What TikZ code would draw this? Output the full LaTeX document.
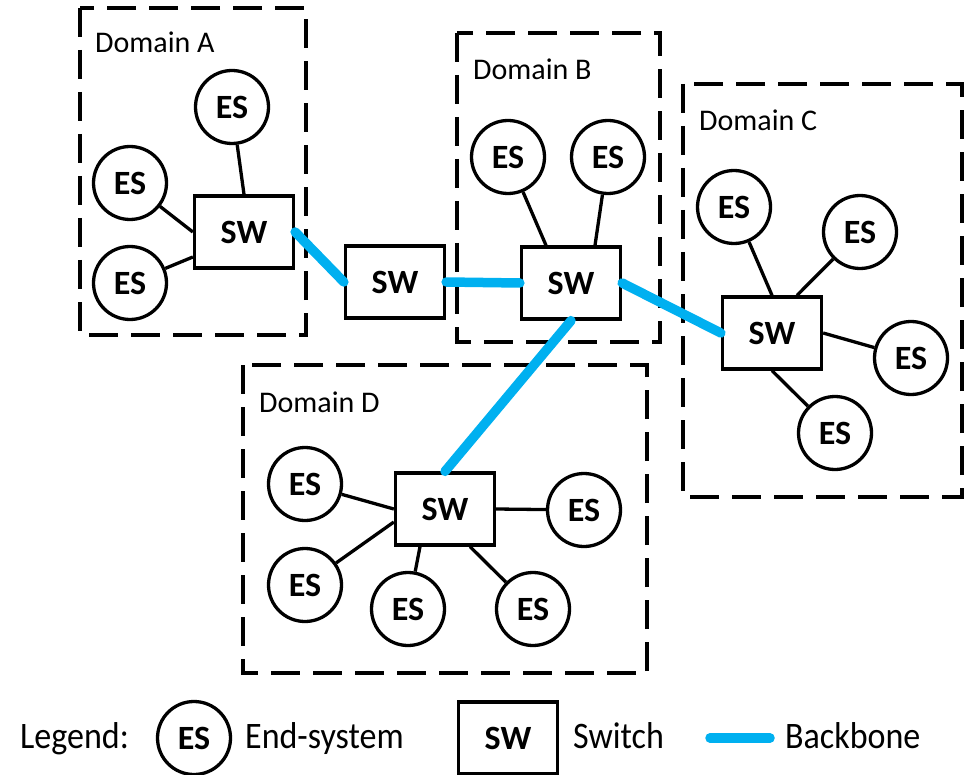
\documentclass[tikz,border=0pt]{standalone}
\usepackage{fontspec}
\setmainfont{Carlito}
\usetikzlibrary{calc}

\definecolor{bbblue}{HTML}{00B0F0}

\tikzset{
  esnode/.style={circle, draw, line width=3.3pt, minimum size=73pt, inner sep=0pt,
    font=\fontsize{34}{38}\selectfont\bfseries},
  swnode/.style={rectangle, draw, line width=3.3pt, minimum width=99pt, minimum height=72pt,
    inner sep=0pt, font=\fontsize{34}{38}\selectfont\bfseries},
  domainbox/.style={draw, line width=3.6pt, dash pattern=on 29pt off 13pt},
  domainlabel/.style={anchor=base west, inner sep=0pt, font=\fontsize{30}{36}\selectfont},
  link/.style={line width=3.3pt},
  backbone/.style={line width=9.5pt, bbblue, line cap=round},
  legendtext/.style={anchor=base west, inner sep=0pt, font=\fontsize{34}{40}\selectfont}
}

\begin{document}
\begin{tikzpicture}[x=1pt, y=-1pt]
  \useasboundingbox (0,0) rectangle (965,775);
  \clip (0,0) rectangle (965,775);

  % domain outlines and titles
  \draw[domainbox] (80,8) rectangle (306,335);
  \draw[domainbox] (457,33) rectangle (660,342);
  \draw[domainbox] (683,84) rectangle (962,497);
  \draw[domainbox] (243,365) rectangle (647,673);
  \node[domainlabel] (labA) at (95,53) {Domain A};
  \node[domainlabel] (labB) at (473,80) {Domain B};
  \node[domainlabel] (labC) at (699,131) {Domain C};
  \node[domainlabel] (labD) at (259,412) {Domain D};

  % switches
  \node[swnode] (swA) at (244,232) {SW};
  \node[swnode] (swM) at (395,282) {SW};
  \node[swnode] (swB) at (571,283) {SW};
  \node[swnode] (swC) at (772,333) {SW};
  \node[swnode] (swD) at (445,509) {SW};

  % end-systems
  \node[esnode] (esA1) at (232,107) {ES};
  \node[esnode] (esA2) at (130,183) {ES};
  \node[esnode] (esA3) at (130,283) {ES};
  \node[esnode] (esB1) at (508,157) {ES};
  \node[esnode] (esB2) at (608,157) {ES};
  \node[esnode] (esC1) at (734,207) {ES};
  \node[esnode] (esC2) at (860,232) {ES};
  \node[esnode] (esC3) at (911,358) {ES};
  \node[esnode] (esC4) at (835,433) {ES};
  \node[esnode] (esD1) at (305,484) {ES};
  \node[esnode] (esD2) at (305,585) {ES};
  \node[esnode] (esD3) at (408,609) {ES};
  \node[esnode] (esD4) at (533,609) {ES};
  \node[esnode] (esD5) at (584,510) {ES};

  % end-system links
  \draw[link] (esA1) -- (swA.north);
  \draw[link] (esA2) -- (swA.west);
  \draw[link] (esA3) -- ($(swA.west)+(0,25)$);
  \draw[link] (esB1) -- ($(swB.north)+(-25,0)$);
  \draw[link] (esB2) -- ($(swB.north)+(24,0)$);
  \draw[link] (esC1) -- (swC.north);
  \draw[link] (esC2) -- ($(swC.north)+(25,0)$);
  \draw[link] (esC3) -- (swC.east);
  \draw[link] (esC4) -- (swC.south);
  \draw[link] (esD1) -- (swD.west);
  \draw[link] (esD2) -- ($(swD.west)+(0,13)$);
  \draw[link] (esD3) -- ($(swD.south)+(-25,0)$);
  \draw[link] (esD4) -- ($(swD.south)+(25,0)$);
  \draw[link] (esD5) -- (swD.east);

  % backbone links between switches
  \draw[backbone] (swA.east) -- (swM.west);
  \draw[backbone] (swM.east) -- (swB.west);
  \draw[backbone] (swB.east) -- (swC.west);
  \draw[backbone] (swB.south) -- (swD.north);

  % legend
  \node[legendtext] (legTitle) at (20,748) {\scalebox{1}[1.1]{Legend:}};
  \node[esnode] (legES) at (194,738) {ES};
  \node[legendtext] (legESt) at (245,748) {\scalebox{1}[1.1]{End-system}};
  \node[swnode] (legSW) at (508,738) {SW};
  \node[legendtext] (legSWt) at (573,748) {\scalebox{1}[1.1]{Switch}};
  \coordinate (legB1) at (710,738);
  \coordinate (legB2) at (770,738);
  \draw[backbone] (legB1) -- (legB2);
  \node[legendtext] (legBt) at (785,748) {\scalebox{1}[1.1]{Backbone}};
\end{tikzpicture}
\end{document}
